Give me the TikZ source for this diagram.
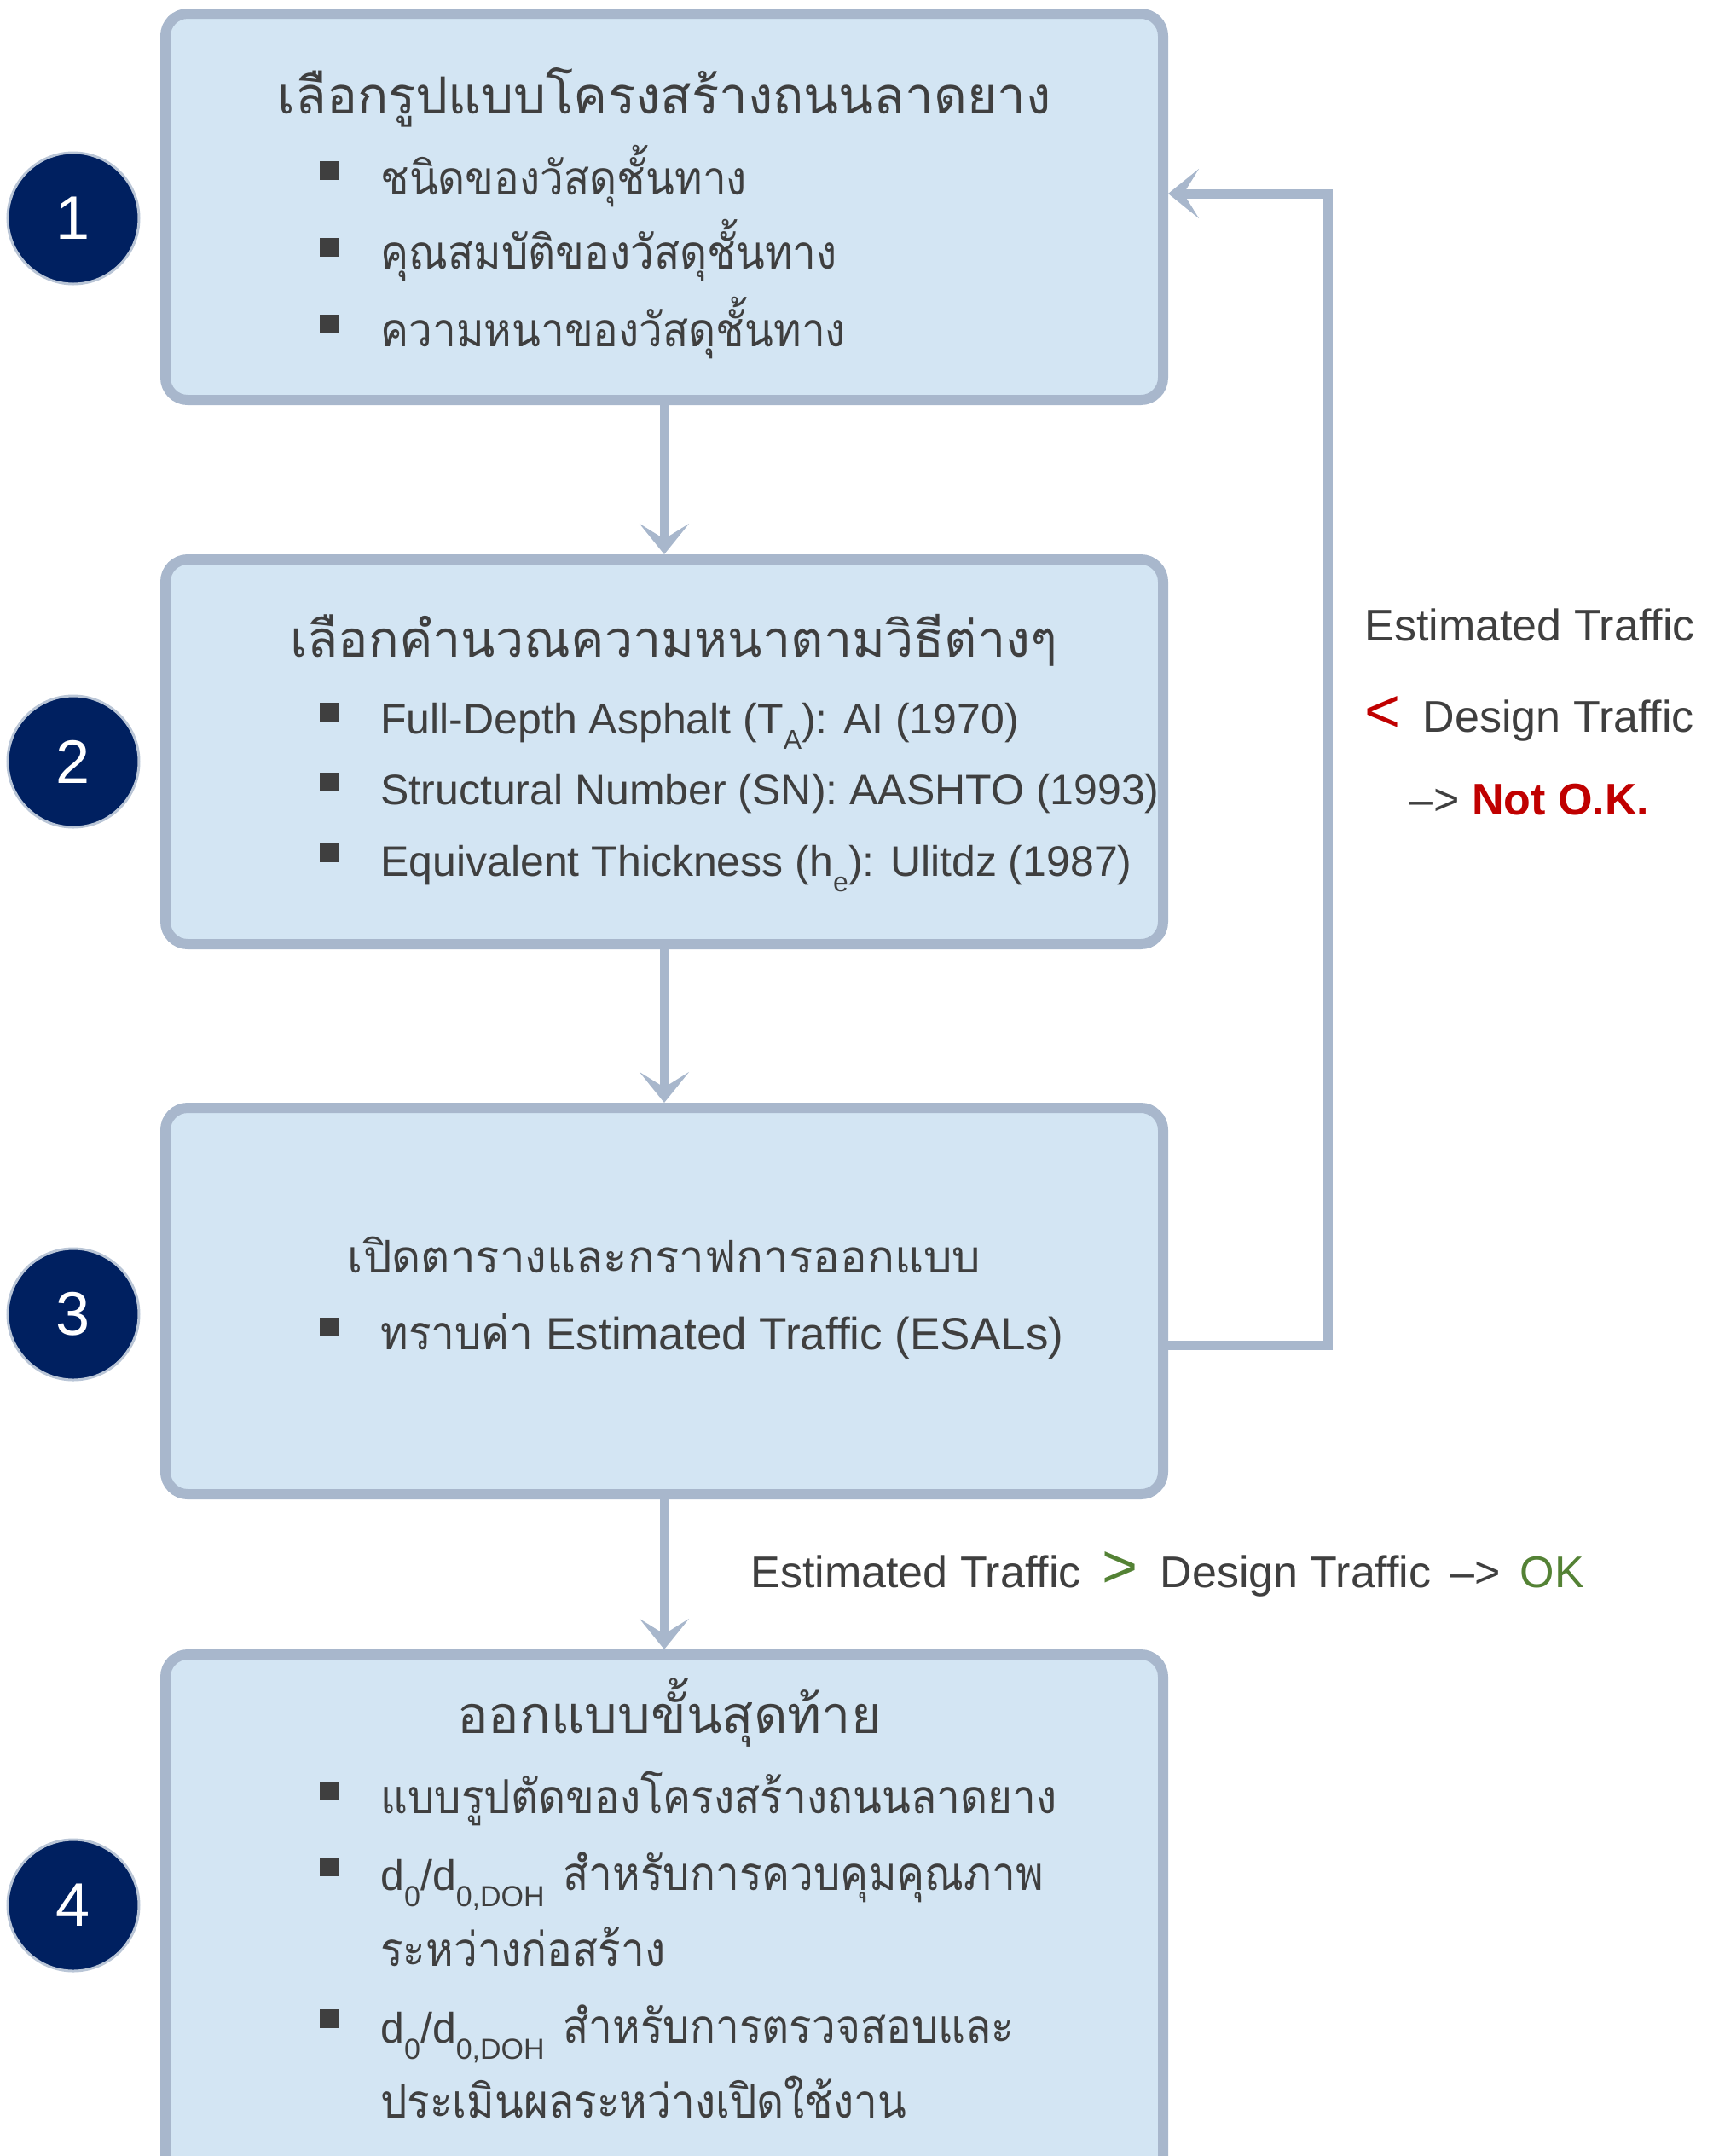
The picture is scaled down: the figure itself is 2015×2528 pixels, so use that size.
\documentclass[tikz,border=0pt]{standalone}
\usepackage{fontspec}
\setmainfont{Liberation Sans}
\newfontfamily\thai[Script=Thai]{Loma}
\newfontfamily\thain[Script=Thai,FakeStretch=0.9]{Loma}
\usetikzlibrary{arrows.meta}
\definecolor{boxfill}{HTML}{D3E5F3}
\definecolor{boxline}{HTML}{A8B7CC}
\definecolor{navy}{HTML}{002060}
\definecolor{txt}{HTML}{3F3F3F}
\definecolor{redt}{HTML}{C00000}
\definecolor{greent}{HTML}{548235}
\newcommand\sbs[1]{\raisebox{-9pt}{\fontsize{16}{16}\selectfont #1}}
\newcommand\sbsb[1]{\raisebox{-9.5pt}{\fontsize{17}{17}\selectfont #1}}
\newcommand\thi[1]{{\thain\fontsize{27.5}{30}\selectfont #1}}
\newcommand\bigsym[1]{{\fontsize{36}{36}\selectfont #1}}
\begin{document}
\begin{tikzpicture}[x=0.5pt,y=-0.5pt,
  box/.style={draw=boxline, line width=6pt, fill=boxfill, rounded corners=13pt, minimum width=585pt, inner sep=0pt},
  conn/.style={draw=boxline, line width=5.5pt, -{Stealth[length=18pt,width=29pt,inset=9pt]}},
  circ/.style={circle, fill=navy, draw=boxline!80, line width=1.5pt, minimum size=77pt, inner sep=0pt, text=white, font=\fontsize{36}{36}\selectfont},
  sq/.style={fill=txt, minimum size=11pt, inner sep=0pt},
  tt/.style={anchor=base, text=txt, inner sep=0pt, font=\thai\fontsize{30}{34}\selectfont},
  it/.style={anchor=base west, text=txt, inner sep=0pt, font=\fontsize{25}{30}\selectfont},
  lab/.style={anchor=base west, text=txt, inner sep=0pt, font=\fontsize{26}{30}\selectfont},
  ti/.style={it, font=\thain\fontsize{27.5}{30}\selectfont},
]
\useasboundingbox (0,0) rectangle (2015,2528);
\clip (0,0) rectangle (2015,2528);

% boxes
\node[box, minimum height=226.5pt] (b1) at (779,242.5) {};
\node[box, minimum height=225.5pt] (b2) at (779,881.5) {};
\node[box, minimum height=226.5pt] (b3) at (779,1525.5) {};
\node[box, minimum height=320pt] (b4) at (779,2260) {};

% connectors
\draw[conn] (b1) -- (b2);
\draw[conn] (b2) -- (b3);
\draw[conn] (b3) -- (b4);
\coordinate (f1) at (1557,1577);
\coordinate (f2) at (1557,227);
\draw[conn] (b3.east |- f1) -- (f1) -- (f2) -- (b1.east |- f2);

% circles
\node[circ] (c1) at (86,256) {1};
\node[circ] (c2) at (86,893) {2};
\node[circ] (c3) at (86,1541) {3};
\node[circ] (c4) at (86,2234) {4};

% box 1
\node[tt] (t1) at (779,133) {เลือกรูปแบบโครงสร้างถนนลาดยาง};
\node[sq] (s11) at (386,200) {};
\node[sq] (s12) at (386,290) {};
\node[sq] (s13) at (386,380) {};
\node[ti] (i11) at (446,228) {ชนิดของวัสดุชั้นทาง};
\node[ti] (i12) at (446,315) {คุณสมบัติของวัสดุชั้นทาง};
\node[ti] (i13) at (446,406) {ความหนาของวัสดุชั้นทาง};

% box 2
\node[tt, font=\thai\fontsize{29.6}{34}\selectfont] (t2) at (790,770) {เลือกคำนวณความหนาตามวิธีต่างๆ};
\node[sq] (s21) at (386,835) {};
\node[sq] (s22) at (386,917) {};
\node[sq] (s23) at (386,1000) {};
\node[it] (i21) at (446,860) {Full-Depth Asphalt (T\sbs{A}): AI (1970)};
\node[it] (i22) at (446,943) {Structural Number (SN): AASHTO (1993)};
\node[it] (i23) at (446,1027) {Equivalent Thickness (h\sbs{e}): Ulitdz (1987)};

% box 3
\node[tt, font=\thai\fontsize{26.4}{30}\selectfont] (t3) at (779,1492) {เปิดตารางและกราฟการออกแบบ};
\node[sq] (s31) at (386,1556) {};
\node[it, font=\fontsize{26.5}{30}\selectfont] (i31) at (446,1582) {\thi{ทราบค่า} Estimated Traffic (ESALs)};

% box 4
\node[tt, font=\thai\fontsize{30.5}{34}\selectfont] (t4) at (785,2032) {ออกแบบขั้นสุดท้าย};
\node[sq] (s41) at (386,2100) {};
\node[sq] (s42) at (386,2189) {};
\node[sq] (s43) at (386,2367) {};
\node[ti] (i41) at (446,2126) {แบบรูปตัดของโครงสร้างถนนลาดยาง};
\node[it] (i42) at (446,2216) {d\sbsb{0}/d\sbsb{0,DOH}\hspace{4pt} \thi{สำหรับการควบคุมคุณภาพ}};
\node[ti] (i42b) at (446,2305) {ระหว่างก่อสร้าง};
\node[it] (i43) at (446,2395) {d\sbsb{0}/d\sbsb{0,DOH}\hspace{4pt} \thi{สำหรับการตรวจสอบและ}};
\node[ti] (i43b) at (446,2483) {ประเมินผลระหว่างเปิดใช้งาน};

% labels
\node[lab] (l1) at (1600,751) {Estimated Traffic};
\node[lab] (l2) at (1600,858) {{\color{redt}\bigsym{<}}\hspace{6pt} Design Traffic};
\node[lab] (l3) at (1652,955) {–> {\color{redt}\bfseries Not O.K.}};
\node[lab] (l4) at (880,1861) {Estimated Traffic\hspace{5pt} {\color{greent}\bigsym{>}}\hspace{6pt} Design Traffic\hspace{4pt} –>\hspace{4pt} {\color{greent}OK}};
\end{tikzpicture}
\end{document}
